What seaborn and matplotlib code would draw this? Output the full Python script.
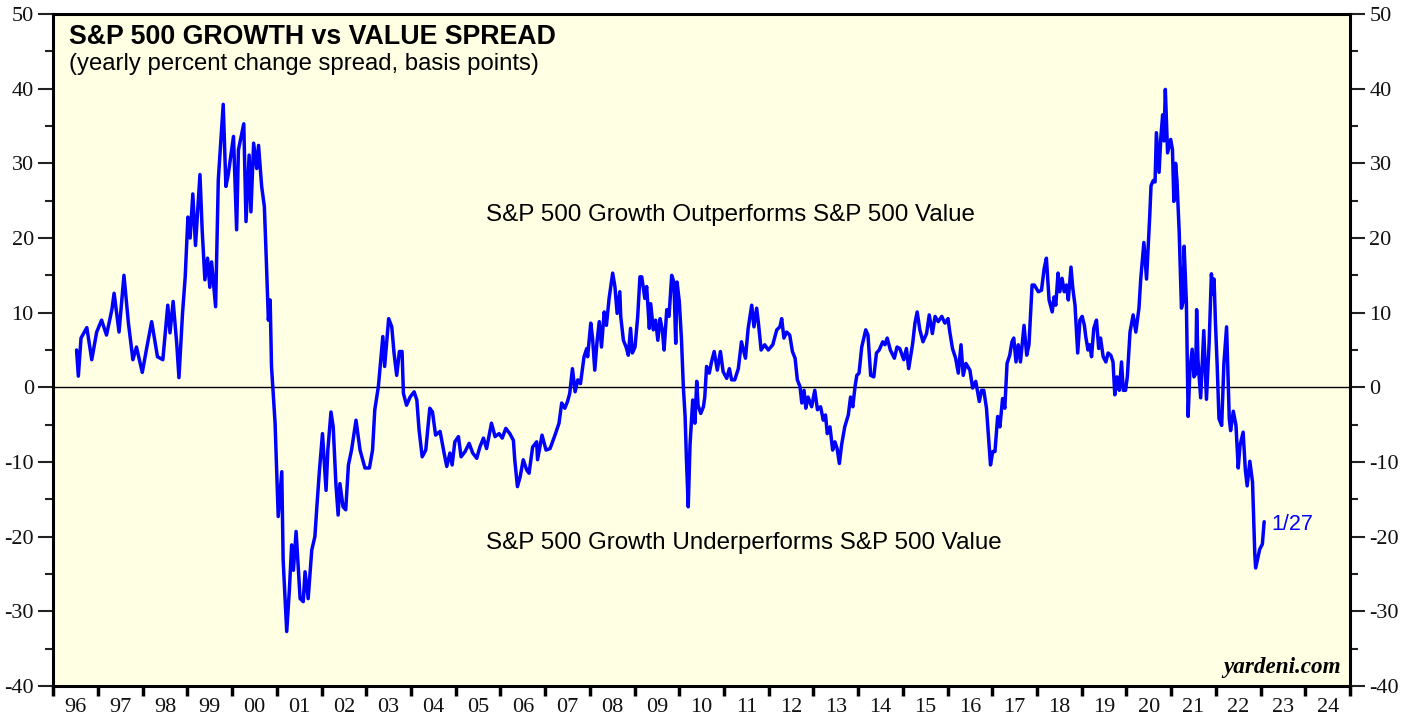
import numpy as np
import pandas as pd
import matplotlib
matplotlib.use('Agg')
import matplotlib.pyplot as plt
import seaborn as sns
from matplotlib.ticker import MultipleLocator, FixedLocator, NullFormatter

# Datas (anos decimais) e spread growth - value (pontos)
anos = [
    1996.52, 1996.56, 1996.62, 1996.75, 1996.86, 1996.97, 1997.08, 1997.19, 1997.31, 1997.36,
    1997.47, 1997.58, 1997.68, 1997.78, 1997.86, 1997.99, 1998.09, 1998.20, 1998.33, 1998.45,
    1998.56, 1998.61, 1998.68, 1998.76, 1998.81, 1998.89, 1998.95, 1999.01, 1999.06, 1999.12,
    1999.18, 1999.24, 1999.28, 1999.33, 1999.39, 1999.45, 1999.50, 1999.54, 1999.63, 1999.69,
    1999.80, 1999.86, 1999.91, 2000.03, 2000.10, 2000.14, 2000.26, 2000.31, 2000.38, 2000.42,
    2000.48, 2000.55, 2000.59, 2000.66, 2000.72, 2000.76, 2000.81, 2000.85, 2000.88, 2000.92,
    2000.96, 2001.03, 2001.11, 2001.14, 2001.22, 2001.28, 2001.33, 2001.37, 2001.43, 2001.52,
    2001.59, 2001.63, 2001.70, 2001.78, 2001.85, 2001.90, 2001.95, 2002.02, 2002.10, 2002.14,
    2002.21, 2002.26, 2002.32, 2002.37, 2002.41, 2002.48, 2002.54, 2002.60, 2002.67, 2002.77,
    2002.86, 2002.97, 2003.07, 2003.14, 2003.19, 2003.27, 2003.37, 2003.41, 2003.50, 2003.57,
    2003.62, 2003.68, 2003.74, 2003.80, 2003.83, 2003.90, 2003.98, 2004.07, 2004.13, 2004.18,
    2004.25, 2004.33, 2004.42, 2004.48, 2004.55, 2004.65, 2004.74, 2004.80, 2004.87, 2004.92,
    2004.98, 2005.06, 2005.12, 2005.21, 2005.30, 2005.38, 2005.47, 2005.54, 2005.62, 2005.69,
    2005.80, 2005.88, 2005.97, 2006.04, 2006.12, 2006.21, 2006.29, 2006.32, 2006.38, 2006.44,
    2006.51, 2006.59, 2006.64, 2006.72, 2006.81, 2006.83, 2006.93, 2007.02, 2007.11, 2007.22,
    2007.31, 2007.37, 2007.44, 2007.50, 2007.55, 2007.61, 2007.67, 2007.73, 2007.79, 2007.84,
    2007.87, 2007.93, 2007.95, 2008.02, 2008.06, 2008.11, 2008.16, 2008.21, 2008.26, 2008.32,
    2008.37, 2008.43, 2008.51, 2008.56, 2008.61, 2008.67, 2008.69, 2008.75, 2008.81, 2008.86,
    2008.91, 2008.95, 2009.01, 2009.07, 2009.12, 2009.16, 2009.23, 2009.27, 2009.33, 2009.36,
    2009.42, 2009.47, 2009.52, 2009.57, 2009.62, 2009.66, 2009.72, 2009.77, 2009.83, 2009.88,
    2009.92, 2009.95, 2010.00, 2010.05, 2010.09, 2010.13, 2010.16, 2010.20, 2010.24, 2010.30,
    2010.35, 2010.39, 2010.42, 2010.48, 2010.54, 2010.57, 2010.61, 2010.67, 2010.72, 2010.78,
    2010.85, 2010.92, 2010.98, 2011.06, 2011.12, 2011.17, 2011.24, 2011.32, 2011.39, 2011.48,
    2011.54, 2011.62, 2011.67, 2011.73, 2011.77, 2011.83, 2011.91, 2011.99, 2012.09, 2012.18,
    2012.25, 2012.29, 2012.34, 2012.40, 2012.47, 2012.53, 2012.59, 2012.64, 2012.70, 2012.74,
    2012.79, 2012.83, 2012.88, 2012.96, 2013.03, 2013.09, 2013.16, 2013.22, 2013.27, 2013.31,
    2013.37, 2013.43, 2013.48, 2013.53, 2013.58, 2013.63, 2013.70, 2013.78, 2013.83, 2013.88,
    2013.93, 2013.97, 2014.02, 2014.08, 2014.17, 2014.22, 2014.28, 2014.35, 2014.41, 2014.47,
    2014.55, 2014.60, 2014.65, 2014.72, 2014.81, 2014.87, 2014.93, 2015.02, 2015.08, 2015.13,
    2015.22, 2015.27, 2015.32, 2015.38, 2015.45, 2015.53, 2015.59, 2015.66, 2015.72, 2015.79,
    2015.87, 2015.94, 2016.01, 2016.05, 2016.11, 2016.18, 2016.24, 2016.30, 2016.35, 2016.41,
    2016.50, 2016.56, 2016.63, 2016.71, 2016.76, 2016.81, 2016.87, 2016.91, 2016.96, 2017.01,
    2017.06, 2017.12, 2017.17, 2017.23, 2017.28, 2017.33, 2017.39, 2017.44, 2017.48, 2017.53,
    2017.58, 2017.63, 2017.71, 2017.77, 2017.82, 2017.89, 2017.94, 2018.03, 2018.10, 2018.16,
    2018.21, 2018.27, 2018.34, 2018.38, 2018.42, 2018.47, 2018.51, 2018.56, 2018.61, 2018.66,
    2018.70, 2018.76, 2018.80, 2018.85, 2018.91, 2018.96, 2019.01, 2019.06, 2019.09, 2019.14,
    2019.18, 2019.22, 2019.27, 2019.33, 2019.38, 2019.42, 2019.48, 2019.54, 2019.59, 2019.65,
    2019.70, 2019.74, 2019.79, 2019.84, 2019.89, 2019.93, 2019.98, 2020.02, 2020.08, 2020.15,
    2020.21, 2020.28, 2020.32, 2020.39, 2020.45, 2020.52, 2020.55, 2020.60, 2020.64, 2020.67,
    2020.73, 2020.77, 2020.81, 2020.84, 2020.87, 2020.92, 2020.99, 2021.03, 2021.06, 2021.10,
    2021.13, 2021.18, 2021.23, 2021.27, 2021.29, 2021.34, 2021.38, 2021.42, 2021.47, 2021.51,
    2021.55, 2021.57, 2021.60, 2021.66, 2021.73, 2021.79, 2021.85, 2021.90, 2021.94, 2021.96,
    2021.99, 2022.03, 2022.07, 2022.13, 2022.18, 2022.24, 2022.30, 2022.33, 2022.39, 2022.45,
    2022.50, 2022.54, 2022.61, 2022.66, 2022.70, 2022.76, 2022.82, 2022.87, 2022.89, 2022.93,
    2022.98, 2023.04, 2023.08,
]

spread = [
    5.0, 1.5, 6.6, 8.0, 3.7, 7.4, 9.0, 7.0, 10.4, 12.6,
    7.4, 15.0, 8.6, 3.7, 5.4, 2.0, 5.3, 8.8, 4.1, 3.7,
    11.0, 7.3, 11.5, 5.9, 1.3, 9.9, 14.8, 22.8, 20.0, 25.9,
    19.0, 24.7, 28.5, 21.0, 14.4, 17.3, 13.4, 16.8, 10.8, 27.8,
    37.9, 26.9, 28.4, 33.6, 21.1, 31.8, 35.3, 22.2, 31.1, 23.5,
    32.7, 29.3, 32.4, 26.9, 24.2, 17.7, 9.0, 11.7, 2.8, -1.0,
    -4.8, -17.3, -11.3, -23.1, -32.7, -27.1, -21.1, -24.5, -19.3, -28.3,
    -28.7, -24.7, -28.3, -21.8, -20.0, -15.5, -11.3, -6.2, -13.8, -8.4,
    -3.3, -5.3, -12.9, -17.1, -12.9, -16.0, -16.4, -10.4, -8.4, -4.4,
    -8.4, -10.8, -10.8, -8.4, -3.0, 0.1, 6.8, 2.8, 9.2, 8.1,
    4.6, 1.6, 4.8, 4.8, -0.8, -2.4, -1.3, -0.6, -1.7, -5.7,
    -9.3, -8.4, -2.8, -3.3, -6.4, -5.9, -8.8, -10.6, -8.8, -10.4,
    -7.3, -6.6, -9.3, -8.6, -7.5, -8.8, -9.5, -8.0, -6.8, -8.2,
    -4.8, -6.6, -6.2, -6.8, -5.5, -6.2, -7.1, -9.7, -13.3, -12.0,
    -9.7, -11.1, -11.5, -8.0, -7.3, -9.7, -6.4, -8.4, -8.2, -6.4,
    -4.8, -2.1, -2.8, -1.9, -0.8, 2.5, -0.6, 1.0, 0.5, 2.8,
    4.1, 5.2, 4.1, 8.6, 6.6, 2.3, 6.1, 8.8, 5.4, 10.1,
    8.3, 11.9, 15.3, 13.5, 9.9, 12.8, 9.5, 6.3, 5.4, 4.3,
    7.9, 4.6, 5.4, 9.5, 14.8, 14.8, 11.9, 13.5, 7.9, 11.2,
    7.7, 9.0, 6.3, 9.2, 7.7, 5.0, 10.4, 9.5, 15.0, 14.1,
    5.9, 14.1, 11.5, 6.3, 0.1, -3.9, -9.7, -16.0, -7.7, -1.7,
    -4.8, 0.8, -2.4, -3.5, -2.6, -1.3, 2.8, 1.9, 3.4, 4.8,
    2.3, 4.8, 2.1, 1.2, 2.5, 1.0, 1.0, 2.5, 6.1, 3.9,
    7.9, 11.0, 8.1, 10.6, 8.6, 5.0, 5.7, 5.0, 5.7, 7.7,
    8.1, 9.2, 6.6, 7.4, 7.0, 4.8, 3.9, 1.0, 0.1, -2.1,
    -0.4, -2.8, -1.3, -2.6, -0.4, -3.0, -2.6, -4.4, -3.7, -6.2,
    -5.3, -8.4, -7.3, -8.2, -10.2, -7.7, -5.3, -3.7, -1.3, -2.6,
    0.1, 1.6, 1.9, 5.4, 7.7, 7.0, 1.6, 1.4, 4.6, 5.0,
    6.1, 5.7, 6.6, 5.0, 3.9, 5.4, 5.2, 3.7, 5.2, 2.5,
    5.9, 8.6, 10.1, 7.7, 6.1, 7.2, 9.7, 7.2, 9.5, 8.8,
    9.5, 8.6, 9.2, 7.4, 5.2, 3.9, 1.9, 5.7, 1.6, 3.2,
    2.3, -0.1, 0.8, -1.9, -0.4, -0.4, -2.8, -6.2, -10.4, -8.6,
    -8.6, -3.9, -5.3, -1.5, -2.8, 3.2, 4.3, 6.1, 6.6, 3.4,
    5.7, 3.4, 8.3, 4.3, 5.7, 13.7, 13.7, 12.8, 13.0, 15.9,
    17.3, 11.7, 10.1, 12.1, 11.0, 15.3, 12.8, 14.6, 12.8, 13.7,
    11.7, 16.1, 13.3, 11.0, 4.6, 9.0, 9.5, 8.3, 6.8, 5.0,
    5.7, 4.1, 7.9, 9.0, 5.2, 6.6, 4.1, 3.4, 4.6, 4.3,
    3.4, -1.0, 1.4, -0.4, 3.4, -0.4, -0.4, 1.4, 7.4, 9.7,
    7.4, 10.6, 14.5, 19.4, 14.5, 22.8, 27.0, 27.7, 27.5, 34.1,
    28.8, 33.5, 36.5, 33.0, 39.9, 31.4, 33.2, 31.8, 24.9, 30.0,
    27.7, 20.8, 10.6, 11.5, 18.9, 11.5, -3.9, 2.3, 5.1, 1.4,
    1.8, 10.4, 3.7, -1.4, 7.6, -1.6, 6.0, 15.2, 12.5, 14.5,
    8.8, 2.8, -4.2, -5.1, 3.2, 8.1, -4.2, -5.8, -3.2, -5.1,
    -10.8, -7.8, -6.0, -11.1, -13.2, -9.9, -12.7, -22.2, -24.2, -23.1,
    -21.7, -21.0, -18.0,
]

anos_rotulos = list(range(1996, 2025))
rotulos_x = [f'{a % 100:02d}' for a in anos_rotulos]

df = pd.DataFrame({'ano': anos, 'spread': spread})

sns.set_style('ticks')
plt.rcParams['font.family'] = ['Liberation Serif', 'DejaVu Serif']
plt.rcParams['axes.unicode_minus'] = False
plt.rcParams['text.color'] = 'black'
plt.rcParams['xtick.color'] = '#222222'
plt.rcParams['ytick.color'] = '#222222'

fig = plt.figure(figsize=(14.16, 7.17), dpi=100)
ax = fig.add_axes([53.3 / 1416, 1 - 686 / 717, (1350 - 53.3) / 1416, 672 / 717])
ax.set_facecolor('#FFFFE3')

ax.axhline(0, color='black', lw=1.0, zorder=1)
sns.lineplot(data=df, x='ano', y='spread', color='#0000FF', lw=2.5, ax=ax, zorder=3)

ax.set_xlim(1996, 2025)
ax.set_ylim(-40, 50)
ax.set_xlabel('')
ax.set_ylabel('')

# Eixo Y: rotulos dos dois lados
ax.yaxis.set_major_locator(MultipleLocator(10))
ax.yaxis.set_minor_locator(MultipleLocator(5))
ax.tick_params(axis='y', which='both', left=True, right=True, labelleft=True, labelright=True,
               direction='out', labelsize=16, width=1.5, labelcolor='#111111')
ax.tick_params(axis='y', which='major', length=11, pad=3)
ax.tick_params(axis='y', which='minor', length=5.5)

# Eixo X: tracos nos anos, rotulos no meio do ano
ax.xaxis.set_major_locator(FixedLocator(anos_rotulos + [2025]))
ax.xaxis.set_major_formatter(NullFormatter())
ax.xaxis.set_minor_locator(FixedLocator([a + 0.5 for a in anos_rotulos]))
ax.set_xticklabels(rotulos_x, minor=True)
ax.tick_params(axis='x', which='major', direction='out', length=7, width=2.5, color='black')
ax.tick_params(axis='x', which='minor', length=0, labelsize=16, pad=9, labelcolor='#111111')

for s in ['left', 'right', 'bottom', 'top']:
    ax.spines[s].set_linewidth(2.2)
    ax.spines[s].set_color('black')

sans = ['Liberation Sans', 'DejaVu Sans']
ax.text(0.012, 0.955, 'S&P 500 GROWTH vs VALUE SPREAD', transform=ax.transAxes,
        family=sans, fontsize=19.3, fontweight='bold', ha='left', va='baseline')
ax.text(0.012, 0.917, '(yearly percent change spread, basis points)', transform=ax.transAxes,
        family=sans, fontsize=17.2, ha='left', va='baseline')

ax.text(2011.15, 23.1, 'S&P 500 Growth Outperforms S&P 500 Value', family=sans,
        fontsize=17.4, ha='center', va='center')
ax.text(2011.44, -20.9, 'S&P 500 Growth Underperforms S&P 500 Value', family=sans,
        fontsize=17.4, ha='center', va='center')
ax.text(2023.25, -18.4, '1/27', family=sans, fontsize=15.5, color='#0000FF',
        ha='left', va='center')
ax.text(0.993, 0.012, 'yardeni.com', transform=ax.transAxes, fontsize=16.7,
        fontweight='bold', fontstyle='italic', ha='right', va='bottom')

fig.savefig('out.png', dpi=100)
